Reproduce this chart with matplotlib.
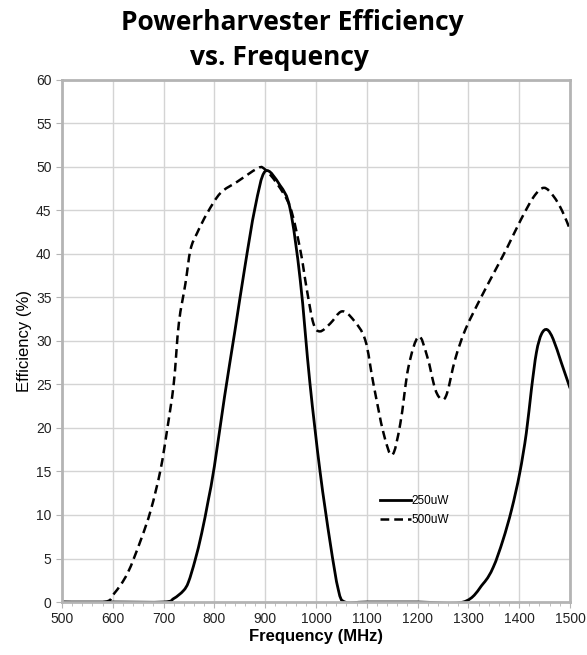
import numpy as np
from matplotlib import pyplot as plt
from matplotlib.path import Path
from matplotlib.patches import PathPatch
from matplotlib.lines import Line2D
from matplotlib.ticker import MultipleLocator

# 250uW curve (solid)
freq_250 = [500, 600, 700, 720, 739, 749, 762, 775, 788, 800, 820, 840, 860,
            880, 900, 929, 949, 969, 988, 1008, 1028, 1044, 1057, 1100, 1200,
            1290, 1329, 1349, 1368, 1385, 1401, 1414, 1424, 1434, 1444, 1455,
            1467, 1483, 1500]
eff_250 = [0, 0, 0, 0.4, 1.3, 2.3, 4.8, 7.9, 11.7, 15.6, 23.6, 31.0, 38.5,
           45.3, 49.5, 47.9, 45.2, 37.0, 25.2, 15.0, 6.8, 1.4, 0, 0, 0,
           0, 2.1, 4.0, 7.1, 10.6, 14.8, 19.4, 24.4, 28.7, 30.8, 31.3,
           30.2, 27.5, 24.6]

# 500uW curve (dashed)
freq_500 = [500, 583, 603, 629, 655, 675, 694, 707, 720, 730, 743, 753, 766,
            786, 812, 845, 884, 898, 923, 949, 969, 982, 995, 1008, 1028,
            1051, 1074, 1097, 1113, 1133, 1150, 1166, 1182, 1202, 1219, 1235,
            1248, 1258, 1274, 1294, 1324, 1350, 1377, 1403, 1429, 1449, 1468,
            1485, 1500]
eff_500 = [0, 0, 1.0, 3.3, 7.1, 10.6, 15.2, 19.8, 25.1, 32.0, 36.6, 40.5, 42.4,
           44.7, 47.0, 48.3, 49.8, 49.8, 48.1, 45.4, 40.5, 35.9, 32.0, 31.1, 32.0,
           33.4, 32.4, 30.1, 25.1, 19.4, 16.9, 20.5, 27.0, 30.5, 28.2, 24.4,
           23.3, 24.0, 27.9, 31.3, 34.9, 37.8, 40.8, 43.9, 46.6, 47.6, 46.6,
           44.9, 42.8]

x_ticks = np.arange(500, 1501, 100)
y_ticks = np.arange(0, 61, 5)


def smooth_path(x, y, t=1/6):
    # Excel-style smoothed line: cubic bezier through every point
    x = np.asarray(x, float)
    y = np.asarray(y, float)
    n = len(x)
    verts = [(x[0], y[0])]
    codes = [Path.MOVETO]
    for i in range(n - 1):
        i0 = max(i - 1, 0)
        i3 = min(i + 2, n - 1)
        c1 = (x[i] + (x[i + 1] - x[i0]) * t, y[i] + (y[i + 1] - y[i0]) * t)
        c2 = (x[i + 1] - (x[i3] - x[i]) * t, y[i + 1] - (y[i3] - y[i]) * t)
        verts += [c1, c2, (x[i + 1], y[i + 1])]
        codes += [Path.CURVE4] * 3
    return Path(verts, codes)


fig = plt.figure(figsize=(5.87, 6.55), dpi=100)
ax = fig.add_axes([0.1056, 0.0809, 0.8654, 0.7971])

dash = (0, (3.5, 2))
ax.add_patch(PathPatch(smooth_path(freq_250, eff_250), fill=False,
                       edgecolor='black', lw=2.0, capstyle='round'))
ax.add_patch(PathPatch(smooth_path(freq_500, eff_500), fill=False,
                       edgecolor='black', lw=1.8, linestyle=dash))

ax.set_xlim(500, 1500)
ax.set_ylim(0, 60)
ax.set_xticks(x_ticks)
ax.set_yticks(y_ticks)
ax.xaxis.set_minor_locator(MultipleLocator(20))
ax.grid(True, which='major', color='#d4d4d4', lw=1)
ax.set_axisbelow(True)

for s in ax.spines.values():
    s.set_color('#b4b4b4')
    s.set_linewidth(2)
    s.set_zorder(3)

ax.tick_params(axis='both', which='both', color='#b4b4b4', labelsize=10,
               labelcolor='#222222')
ax.tick_params(axis='both', which='major', length=4)
ax.tick_params(axis='x', which='minor', length=3)
for lab in ax.get_xticklabels() + ax.get_yticklabels():
    lab.set_family('Liberation Sans')

ax.set_xlabel('Frequency (MHz)', fontsize=12, fontweight='bold',
              family='Liberation Sans', labelpad=2)
ax.set_ylabel('Efficiency (%)', fontsize=12, family='Liberation Sans', labelpad=3)

handles = [Line2D([], [], color='black', lw=2.0),
           Line2D([], [], color='black', lw=1.8, ls=dash)]
ax.legend(handles, ['250uW', '500uW'], loc='upper left',
          bbox_to_anchor=(0.605, 0.225), frameon=False, handlelength=2.6,
          handletextpad=0.1, labelspacing=0.55,
          prop={'family': 'Liberation Sans', 'size': 8.5})

fig.text(0.498, 0.966, 'Powerharvester Efficiency', ha='center', va='center',
         fontsize=19, fontweight='bold', family='Open Sans')
fig.text(0.476, 0.912, 'vs. Frequency', ha='center', va='center',
         fontsize=19, fontweight='bold', family='Open Sans')

fig.savefig('out.png', dpi=100)
